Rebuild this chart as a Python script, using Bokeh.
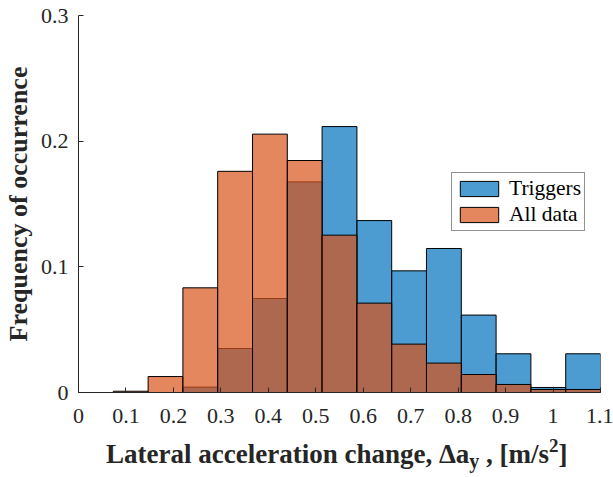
from bokeh.plotting import figure
from bokeh.models import ColumnDataSource, Legend, LegendItem, FixedTicker, Range1d, Div
from bokeh.layouts import column
from bokeh.embed import file_html
from bokeh.resources import INLINE

# ---- data ----
bin_edges = [0.0, 0.0733, 0.1467, 0.22, 0.2933, 0.3667, 0.44, 0.5133, 0.5867,
             0.66, 0.7333, 0.8067, 0.88, 0.9533, 1.0267, 1.1]
triggers = [0.0, 0.0, 0.0, 0.0043, 0.035, 0.0748, 0.1676, 0.2116, 0.1368,
            0.0968, 0.1146, 0.0616, 0.0308, 0.004, 0.0308]
all_data = [0.0, 0.001, 0.0127, 0.0833, 0.176, 0.2056, 0.1846, 0.1252, 0.0711,
            0.0385, 0.0234, 0.0143, 0.0064, 0.0024, 0.0024]
series_names = ["Triggers", "All data"]
x_ticks = [0, 0.1, 0.2, 0.3, 0.4, 0.5, 0.6, 0.7, 0.8, 0.9, 1, 1.1]
x_tick_labels = ["0", "0.1", "0.2", "0.3", "0.4", "0.5", "0.6", "0.7", "0.8", "0.9", "1", "1.1"]
y_ticks = [0, 0.1, 0.2, 0.3]
y_tick_labels = ["0", "0.1", "0.2", "0.3"]
y_title = "Frequency of occurrence"

SERIF = "Liberation Serif"
AX = "#262626"

p = figure(width=613, height=432, output_backend="svg", toolbar_location=None,
           x_range=Range1d(0, 1.1), y_range=Range1d(0, 0.3),
           min_border_left=78, min_border_right=13, min_border_top=15, min_border_bottom=40)
p.outline_line_color = None
p.grid.visible = False
p.background_fill_color = "white"
p.border_fill_color = "white"

src = ColumnDataSource(dict(left=bin_edges[:-1], right=bin_edges[1:],
                            trig=triggers, alld=all_data))
r1 = p.quad(left="left", right="right", bottom=0, top="trig", source=src,
            fill_color=(0, 114, 189), fill_alpha=0.7, line_color="black", line_width=1)
r2 = p.quad(left="left", right="right", bottom=0, top="alld", source=src,
            fill_color=(217, 83, 25), fill_alpha=0.7, line_color="black", line_width=1)

for ax, ticks, labels in ((p.xaxis, x_ticks, x_tick_labels), (p.yaxis, y_ticks, y_tick_labels)):
    ax.ticker = FixedTicker(ticks=ticks)
    ax.major_label_overrides = {t: l for t, l in zip(ticks, labels)}
    ax.major_tick_in = 5
    ax.major_tick_out = 0
    ax.minor_tick_line_color = None
    ax.axis_line_color = AX
    ax.major_tick_line_color = AX
    ax.major_label_text_font = SERIF
    ax.major_label_text_font_size = "22px"
    ax.major_label_text_color = AX
p.xaxis.major_label_standoff = 16
p.yaxis.major_label_standoff = 10

p.yaxis.axis_label = y_title
p.yaxis.axis_label_text_font = SERIF
p.yaxis.axis_label_text_font_size = "26px"
p.yaxis.axis_label_text_font_style = "bold"
p.yaxis.axis_label_text_color = AX
p.yaxis.axis_label_standoff = 5

legend = Legend(items=[LegendItem(label=series_names[0], renderers=[r1]),
                       LegendItem(label=series_names[1], renderers=[r2])],
                location=(373, 161))
legend.label_text_font = SERIF
legend.label_text_font_size = "21.5px"
legend.label_text_color = "black"
legend.glyph_width = 48
legend.glyph_height = 19
legend.label_height = 19
legend.label_standoff = 6
legend.padding = 3
legend.spacing = 1
legend.margin = 0
legend.border_line_color = AX
legend.border_line_width = 1
legend.background_fill_color = "white"
legend.background_fill_alpha = 1
p.add_layout(legend)

# x axis title as real HTML text (with subscript and superscript)
x_title_html = (
    "<div style=\"font-family:'Liberation Serif'; font-weight:bold; font-size:27px; "
    "color:#262626; line-height:1; padding-top:9px; padding-left:106px; white-space:nowrap;\">"
    "Lateral acceleration change, \u0394a"
    "<span style=\"font-size:20px; position:relative; top:5px;\">y</span>"
    " , [m/s"
    "<span style=\"font-size:19px; position:relative; top:-11px;\">2</span>]"
    "</div>"
)
xtitle = Div(text=x_title_html, width=613, height=45, margin=0)

layout = column(p, xtitle, spacing=0)
open("out.html", "w").write(file_html(layout, INLINE))
